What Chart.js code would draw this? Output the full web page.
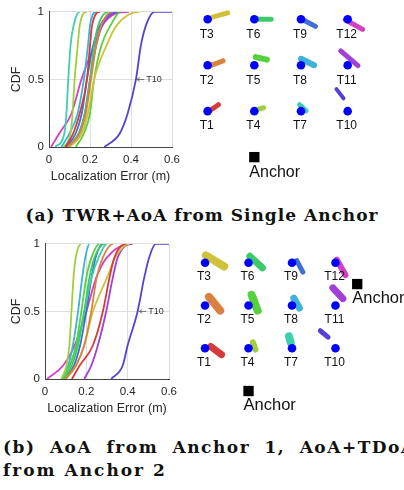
<!DOCTYPE html>
<html>
<head>
<meta charset="utf-8">
<script src="https://cdn.jsdelivr.net/npm/chart.js@4.4.1/dist/chart.umd.min.js"></script>
<style>
  html, body { margin: 0; padding: 0; background: #fff; }
  body { width: 404px; height: 490px; position: relative; overflow: hidden; }
  canvas { position: absolute; }
  .cap { position: absolute; font-family: "DejaVu Serif", serif; font-weight: bold; color: #111; font-size: 17px; line-height: 22px; white-space: nowrap; }
</style>
</head>
<body>
<canvas id="cdfA" width="186" height="190" style="left:0;top:0"></canvas>
<canvas id="mapA" width="248" height="192" style="left:177px;top:0"></canvas>
<div class="cap" style="left:0;top:204px;width:404px;text-align:center;letter-spacing:1px">(a) TWR+AoA from Single Anchor</div>
<canvas id="cdfB" width="183" height="190" style="left:0;top:232px"></canvas>
<canvas id="mapB" width="232" height="190" style="left:176px;top:234px"></canvas>
<div class="cap" style="left:3px;top:436px;width:420px;letter-spacing:1.5px;word-spacing:7px">(b) AoA from Anchor 1, AoA+TDoA</div>
<div class="cap" style="left:3px;top:459px;letter-spacing:2px">from Anchor 2</div>
<script>
// ---- data ----
const tagNames = ['T1','T2','T3','T4','T5','T6','T7','T8','T9','T10','T11','T12'];
const tagColors = ['#d63a3a','#d9823f','#cfc23a','#9fcf3f','#56d13c','#3dc96a',
                   '#3dcfae','#3db3d9','#3f6fd6','#5a3fd6','#a23fd6','#d63fc3'];
const tagCol = [0,0,0,1,1,1,2,2,2,3,3,3];
const tagRow = [0,1,2,0,1,2,0,1,2,0,1,2];

// CDF levels, error (m) at each level per tag; last entry = end of curve
const cdfLevels = [0, 0.1, 0.25, 0.5, 0.75, 0.9, 1, 1];
const xTicks = [0, 0.2, 0.4, 0.6];
const yTicks = [0, 0.5, 1];

// (a) TWR+AoA from single anchor
const errorsA = [
  [0.08, 0.118, 0.15, 0.185, 0.2, 0.21, 0.25, 0.25],
  [0.09, 0.15, 0.18, 0.205, 0.23, 0.255, 0.31, 0.31],
  [0.1, 0.16, 0.19, 0.22, 0.28, 0.33, 0.44, 0.44],
  [0.07, 0.105, 0.115, 0.125, 0.14, 0.15, 0.185, 0.185],
  [0.13, 0.17, 0.2, 0.22, 0.255, 0.3, 0.35, 0.35],
  [0.09, 0.145, 0.175, 0.2, 0.22, 0.24, 0.29, 0.29],
  [0.03, 0.075, 0.085, 0.094, 0.105, 0.12, 0.15, 0.15],
  [0.06, 0.1, 0.14, 0.17, 0.19, 0.2, 0.23, 0.23],
  [0.08, 0.13, 0.16, 0.185, 0.215, 0.25, 0.33, 0.33],
  [0.27, 0.345, 0.384, 0.424, 0.448, 0.473, 0.515, 0.6],
  [0.08, 0.145, 0.175, 0.2, 0.23, 0.26, 0.36, 0.36],
  [0.01, 0.05, 0.11, 0.158, 0.22, 0.26, 0.39, 0.39]
];
// (b) AoA from anchor 1, AoA+TDoA from anchor 2
const errorsB = [
  [0.13, 0.168, 0.232, 0.28, 0.312, 0.336, 0.392, 0.392],
  [0.1, 0.15, 0.19, 0.224, 0.25, 0.28, 0.33, 0.33],
  [0.1, 0.15, 0.19, 0.232, 0.3, 0.34, 0.41, 0.41],
  [0.08, 0.104, 0.118, 0.128, 0.138, 0.149, 0.176, 0.176],
  [0.09, 0.12, 0.15, 0.176, 0.2, 0.225, 0.264, 0.264],
  [0.09, 0.13, 0.16, 0.19, 0.215, 0.24, 0.29, 0.29],
  [0.08, 0.12, 0.155, 0.19, 0.225, 0.26, 0.3, 0.3],
  [0.08, 0.112, 0.135, 0.16, 0.18, 0.195, 0.216, 0.216],
  [0.09, 0.14, 0.17, 0.2, 0.225, 0.245, 0.28, 0.28],
  [0.32, 0.376, 0.4, 0.448, 0.48, 0.504, 0.536, 0.6],
  [0.19, 0.224, 0.256, 0.296, 0.328, 0.352, 0.424, 0.424],
  [0.01, 0.088, 0.144, 0.2, 0.248, 0.3, 0.42, 0.42]
];

// estimate clouds: [x1, y1, x2, y2] in grid units, plus thickness
const cloudsA = [
  [0.06,0.02, 0.23,0.14], [0.06,0.99, 0.33,1.095], [0.1,2.046, 0.43,2.14],
  [1.07,0.04, 1.2,0.075], [1.03,1.175, 1.27,1.12], [1.07,2.0, 1.36,2.0],
  [1.97,0.14, 2.11,0.006], [2.0,1.14, 2.28,1.0], [2.04,1.99, 2.31,1.845],
  [2.76,0.48, 2.91,0.28], [2.85,1.31, 3.22,0.99], [2.95,1.99, 3.32,1.78]
];
const cloudWidthA = [5,5,5,5,6,5,5,6,5,4,5,5];
const cloudsB = [
  [0.13,0.04, 0.38,-0.15], [0.09,1.2, 0.35,0.88], [0.02,2.17, 0.44,1.91],
  [1.1,0.14, 1.16,-0.03], [1.07,1.25, 1.21,0.88], [1.03,2.15, 1.32,1.88],
  [1.93,0.28, 1.97,0.14], [2.04,1.17, 2.17,0.94], [2.11,2.05, 2.25,1.78],
  [2.65,0.41, 2.83,0.26], [2.94,1.41, 3.17,1.16], [3.03,2.07, 3.23,1.71]
];
const cloudWidthB = [7,8,8,6,8,7,8,7,5,5,7,6];
const anchorsA = [[1, -1]];
const anchorsB = [[1, -1], [3.5, 1.5]];

const FONT = '"Liberation Sans", Arial, Helvetica, sans-serif';
const TEXT = '#262626';

// arrow + "T10" note on the CDF plots
const t10Note = {
  id: 't10Note',
  afterDatasetsDraw(chart, args, opts) {
    const {ctx, scales: {x, y}} = chart;
    const py = y.getPixelForValue(0.5);
    const x0 = x.getPixelForValue(opts.head), x1 = x.getPixelForValue(opts.tail);
    ctx.save();
    ctx.strokeStyle = '#555';
    ctx.lineWidth = 0.8;
    ctx.beginPath();
    ctx.moveTo(x1, py); ctx.lineTo(x0, py);
    ctx.moveTo(x0 + 3, py - 2); ctx.lineTo(x0, py); ctx.lineTo(x0 + 3, py + 2);
    ctx.stroke();
    ctx.fillStyle = '#333';
    ctx.font = '9px ' + FONT;
    ctx.textBaseline = 'middle';
    ctx.fillText('T10', x1 + 2, py);
    ctx.restore();
  }
};

// tag / anchor names on the maps
const mapLabels = {
  id: 'mapLabels',
  afterDatasetsDraw(chart, args, opts) {
    const {ctx, scales: {x, y}} = chart;
    ctx.save();
    ctx.fillStyle = '#111';
    ctx.textBaseline = 'middle';
    ctx.textAlign = 'center';
    ctx.font = opts.tagSize + 'px ' + FONT;
    tagNames.forEach((name, i) => {
      ctx.fillText(name, x.getPixelForValue(tagCol[i]) - 1, y.getPixelForValue(tagRow[i]) + opts.tagDy);
    });
    ctx.textAlign = 'left';
    ctx.font = opts.anchorSize + 'px ' + FONT;
    opts.anchors.forEach(a => {
      ctx.fillText('Anchor', x.getPixelForValue(a[0]) - 5, y.getPixelForValue(a[1]) + opts.anchorDy);
    });
    ctx.restore();
  }
};

function makeCdf(id, errors, yWidth, note) {
  const datasets = errors.map((errs, i) => ({
    label: tagNames[i],
    data: errs.map((e, k) => ({x: e, y: cdfLevels[k]})),
    borderColor: tagColors[i],
    borderWidth: 1.8,
    pointRadius: 0,
    cubicInterpolationMode: 'monotone',
    fill: false
  }));
  return new Chart(document.getElementById(id), {
    type: 'line',
    data: {datasets},
    plugins: [t10Note],
    options: {
      responsive: false,
      animation: false,
      devicePixelRatio: 1,
      layout: {padding: {left: 0, top: 10, right: 13, bottom: 0}},
      plugins: {legend: {display: false}, tooltip: {enabled: false}, t10Note: note},
      scales: {
        x: {
          type: 'linear', min: 0, max: 0.6,
          afterBuildTicks: s => { s.ticks = xTicks.map(v => ({value: v})); },
          afterFit: s => { s.height = 43; },
          grid: {color: '#dedede', drawTicks: false},
          border: {color: '#444', width: 1},
          ticks: {color: TEXT, font: {family: FONT, size: 11.5}, padding: 6,
                  callback: v => String(v)},
          title: {display: true, text: 'Localization Error (m)', color: TEXT,
                  font: {family: FONT, size: 12.5}, padding: {top: 0, bottom: 6}}
        },
        y: {
          type: 'linear', min: 0, max: 1,
          afterBuildTicks: s => { s.ticks = yTicks.map(v => ({value: v})); },
          afterFit: s => { s.width = yWidth; },
          grid: {color: '#dedede', drawTicks: false},
          border: {color: '#444', width: 1},
          ticks: {color: TEXT, font: {family: FONT, size: 11.5}, padding: 5,
                  callback: v => String(v)},
          title: {display: true, text: 'CDF', color: TEXT,
                  font: {family: FONT, size: 12.5}, padding: {top: 9, bottom: 0}}
        }
      }
    }
  });
}

function makeMap(id, clouds, widths, anchors, yMin, yMax, labelOpts) {
  const datasets = [{
    label: 'tags',
    type: 'scatter',
    data: tagCol.map((c, i) => ({x: c, y: tagRow[i]})),
    backgroundColor: '#0000ff',
    borderWidth: 0,
    pointRadius: 4.3,
    order: 0
  }, {
    label: 'anchors',
    type: 'scatter',
    data: anchors.map(a => ({x: a[0], y: a[1]})),
    backgroundColor: '#000',
    borderWidth: 0,
    pointStyle: 'rect',
    pointRadius: 7.3,
    order: 0
  }];
  clouds.forEach((c, i) => {
    datasets.push({
      label: tagNames[i] + ' est',
      type: 'line',
      data: [{x: c[0], y: c[1]}, {x: c[2], y: c[3]}],
      borderColor: tagColors[i],
      borderWidth: widths[i],
      borderCapStyle: 'round',
      pointRadius: 0,
      order: 1
    });
  });
  return new Chart(document.getElementById(id), {
    type: 'scatter',
    data: {datasets},
    plugins: [mapLabels],
    options: {
      responsive: false,
      animation: false,
      devicePixelRatio: 1,
      clip: false,
      layout: {padding: 0},
      plugins: {legend: {display: false}, tooltip: {enabled: false},
                mapLabels: Object.assign({anchors}, labelOpts)},
      scales: {
        x: {type: 'linear', min: -0.5, max: 4.5, display: false},
        y: {type: 'linear', min: yMin, max: yMax, display: false}
      }
    }
  });
}

makeCdf('cdfA', errorsA, 49, {head: 0.428, tail: 0.465});
makeMap('mapA', cloudsA, cloudWidthA, anchorsA, -1.6, 2.26,
        {tagSize: 12, tagDy: 15, anchorSize: 16, anchorDy: 15});
makeCdf('cdfB', errorsB, 45, {head: 0.456, tail: 0.49});
makeMap('mapB', cloudsB, cloudWidthB, anchorsB, -1.6, 2.5,
        {tagSize: 12, tagDy: 14, anchorSize: 16.5, anchorDy: 14});
</script>
</body>
</html>
